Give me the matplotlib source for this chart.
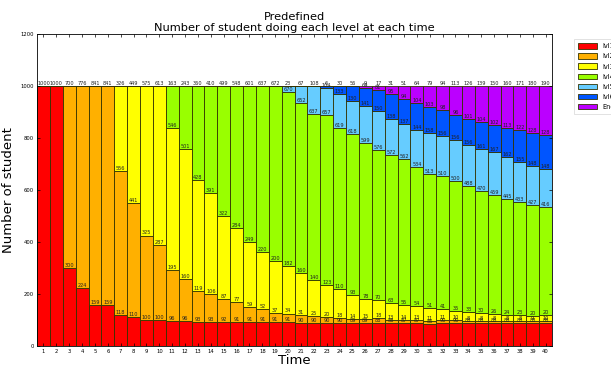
import matplotlib
matplotlib.use('Agg')
import numpy as np
import matplotlib.pyplot as plt

times = list(range(1, 41))

lvl1 = [1000, 1000, 300, 224, 159, 159, 118, 110, 100, 100,
        96, 96, 93, 93, 92, 91, 91, 91, 91, 91,
        90, 90, 90, 90, 89, 89, 88, 88, 87, 87,
        85, 90, 90, 88, 88, 88, 88, 88, 88, 88]
lvl2 = [0, 0, 700, 776, 841, 841, 556, 441, 325, 287,
        195, 160, 119, 106, 87, 77, 59, 52, 37, 34,
        31, 25, 20, 18, 14, 15, 18, 13, 14, 13,
        11, 11, 10, 8, 8, 8, 8, 8, 9, 10]
lvl3 = [0, 0, 0, 0, 0, 0, 326, 449, 575, 613,
        546, 501, 428, 391, 322, 284, 249, 220, 200, 182,
        160, 140, 123, 110, 93, 78, 70, 63, 55, 54,
        51, 41, 35, 33, 30, 26, 24, 23, 20, 20]
lvl4 = [0, 0, 0, 0, 0, 0, 0, 0, 0, 0,
        163, 243, 360, 410, 499, 548, 601, 637, 672, 670,
        652, 637, 657, 619, 618, 599, 576, 572, 562, 534,
        513, 510, 500, 488, 470, 459, 445, 433, 427, 416]
lvl5 = [0, 0, 0, 0, 0, 0, 0, 0, 0, 0,
        0, 0, 0, 0, 0, 0, 0, 0, 0, 23,
        67, 108, 104, 133, 130, 141, 150, 138, 137, 144,
        158, 156, 156, 156, 161, 167, 162, 155, 148, 148]
lvl6 = [0, 0, 0, 0, 0, 0, 0, 0, 0, 0,
        0, 0, 0, 0, 0, 0, 0, 0, 0, 0,
        0, 0, 6, 30, 56, 69, 81, 95, 94, 104,
        103, 98, 96, 101, 104, 102, 113, 122, 128, 128]
end = [0, 0, 0, 0, 0, 0, 0, 0, 0, 0,
       0, 0, 0, 0, 0, 0, 0, 0, 0, 0,
       0, 0, 0, 0, 0, 9, 17, 31, 51, 64,
       79, 94, 113, 126, 139, 150, 160, 171, 180, 190]

names = ['lvl1', 'lvl2', 'lvl3', 'lvl4', 'lvl5', 'lvl6', 'End']
colors = ['#ff0000', '#ffb000', '#ffff00', '#99ff00', '#66ccff', '#0055ff', '#bb00ff']
series = [lvl1, lvl2, lvl3, lvl4, lvl5, lvl6, end]

fig = plt.figure(figsize=(6.11, 3.67), dpi=100)
ax = fig.add_axes([37 / 611., 1 - 346 / 367., 515 / 611., 312 / 367.])

bottom = np.zeros(len(times))
handles = []
for name, col, vals in zip(names, colors, series):
    vals = np.array(vals, dtype=float)
    b = ax.bar(times, vals, width=1.0, bottom=bottom, color=col,
               edgecolor='#333300', linewidth=0.6, label=name)
    handles.append(b)
    top = bottom + vals
    for t, v, y in zip(times, vals, top):
        if v > 0:
            ax.text(t, y, '%d' % v, ha='center', va='bottom', fontsize=3.6, color='#222222')
    bottom = top

ax.set_xlim(0.5, 40.5)
ax.set_ylim(0, 1200)
ax.set_xticks(times)
ax.set_xticklabels([str(t) for t in times])
ax.set_yticks([0, 200, 400, 600, 800, 1000, 1200])
ax.tick_params(labelsize=3.8, length=2, width=0.5, direction='in',
               top=True, right=True, pad=2)
for s in ax.spines.values():
    s.set_linewidth(0.6)

ax.set_title('Predefined\nNumber of student doing each level at each time',
             fontsize=8.2, pad=2, linespacing=1.15)
ax.set_xlabel('Time', fontsize=9.5, labelpad=0)
ax.set_ylabel('Number of student', fontsize=9.5, labelpad=4)

leg = fig.legend(handles=handles, labels=names, loc='upper left',
                 bbox_to_anchor=(571 / 611., 1 - 36 / 367.), fontsize=4.8,
                 handlelength=2.8, handleheight=0.9, borderpad=0.6,
                 labelspacing=0.6, fancybox=False)
leg.get_frame().set_linewidth(0.5)

plt.savefig('out.png', dpi=100)
